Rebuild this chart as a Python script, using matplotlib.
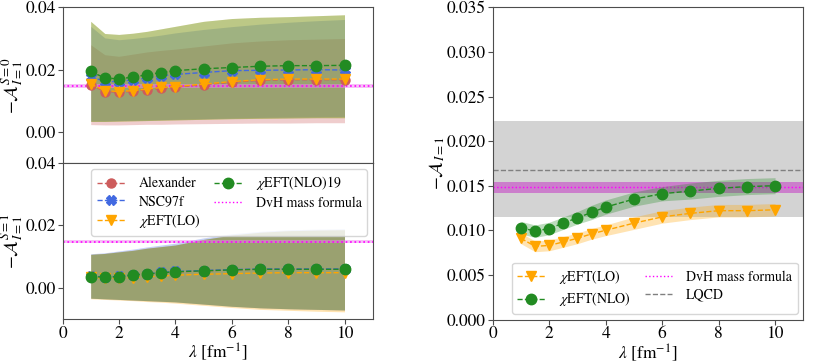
import numpy as np
import matplotlib
matplotlib.use("Agg")
import matplotlib.pyplot as plt

plt.rcParams['font.family'] = ['STIXGeneral', 'Liberation Serif', 'DejaVu Serif']
plt.rcParams['mathtext.fontset'] = 'stix'

lam = [1, 1.5, 2, 2.5, 3, 3.5, 4, 5, 6, 7, 8, 9, 10]

# ---- S=0 panel (top left) ----
s0_alex = [0.0152, 0.0130, 0.0128, 0.0131, 0.0136, 0.0141, 0.0144, 0.0152, 0.0160, 0.0166, 0.0168, 0.0168, 0.0168]
s0_nsc = [0.0178, 0.0162, 0.0162, 0.0168, 0.0173, 0.0180, 0.0185, 0.0191, 0.0197, 0.0198, 0.0199, 0.0200, 0.0199]
s0_lo = [0.0154, 0.0133, 0.0130, 0.0133, 0.0138, 0.0143, 0.0146, 0.0154, 0.0162, 0.0168, 0.0170, 0.0170, 0.0170]
s0_nlo = [0.0195, 0.0173, 0.0171, 0.0176, 0.0184, 0.0191, 0.0197, 0.0203, 0.0207, 0.0211, 0.0213, 0.0213, 0.0214]

s0_alex_hi = [0.0280, 0.0248, 0.0243, 0.0250, 0.0257, 0.0262, 0.0266, 0.0276, 0.0286, 0.0292, 0.0296, 0.0298, 0.0300]
s0_alex_lo = [0.0024, 0.0023, 0.0023, 0.0024, 0.0025, 0.0025, 0.0026, 0.0027, 0.0028, 0.0029, 0.0029, 0.0030, 0.0030]
s0_nsc_hi = [0.0339, 0.0302, 0.0296, 0.0300, 0.0305, 0.0311, 0.0318, 0.0329, 0.0338, 0.0346, 0.0352, 0.0357, 0.0361]
s0_nsc_lo = [0.0036, 0.0036, 0.0037, 0.0038, 0.0039, 0.0040, 0.0041, 0.0043, 0.0045, 0.0047, 0.0048, 0.0049, 0.0050]
s0_lo_hi = [0.0355, 0.0316, 0.0313, 0.0317, 0.0323, 0.0331, 0.0339, 0.0355, 0.0364, 0.0368, 0.0370, 0.0373, 0.0376]
s0_lo_lo = [0.0034, 0.0034, 0.0035, 0.0036, 0.0037, 0.0038, 0.0039, 0.0041, 0.0043, 0.0044, 0.0045, 0.0046, 0.0046]
s0_nlo_hi = [0.0355, 0.0316, 0.0313, 0.0317, 0.0323, 0.0331, 0.0339, 0.0355, 0.0364, 0.0368, 0.0370, 0.0373, 0.0376]
s0_nlo_lo = [0.0034, 0.0034, 0.0035, 0.0036, 0.0037, 0.0038, 0.0039, 0.0041, 0.0043, 0.0044, 0.0045, 0.0046, 0.0046]

# ---- S=1 panel (bottom left) ----
s1_alex = [0.0035, 0.0034, 0.0035, 0.0040, 0.0043, 0.0047, 0.0050, 0.0054, 0.0057, 0.0059, 0.0059, 0.0059, 0.0059]
s1_nsc = [0.0036, 0.0035, 0.0036, 0.0041, 0.0045, 0.0049, 0.0052, 0.0055, 0.0058, 0.0060, 0.0060, 0.0060, 0.0060]
s1_lo = [0.0033, 0.0030, 0.0030, 0.0032, 0.0035, 0.0037, 0.0040, 0.0043, 0.0045, 0.0047, 0.0048, 0.0048, 0.0048]
s1_nlo = [0.0035, 0.0034, 0.0035, 0.0041, 0.0044, 0.0048, 0.0051, 0.0054, 0.0057, 0.0059, 0.0059, 0.0059, 0.0059]

s1_hi = [0.0107, 0.0110, 0.0115, 0.0120, 0.0127, 0.0132, 0.0137, 0.0155, 0.0169, 0.0178, 0.0183, 0.0185, 0.0186]
s1_nsc_hi = [0.0109, 0.0112, 0.0118, 0.0124, 0.0131, 0.0137, 0.0143, 0.0160, 0.0173, 0.0181, 0.0186, 0.0188, 0.0189]
s1_lo_band = [-0.0034, -0.0036, -0.0038, -0.0040, -0.0042, -0.0044, -0.0046, -0.0053, -0.0060, -0.0065, -0.0068, -0.0070, -0.0072]
s1_lo_lo = [-0.0036, -0.0038, -0.0040, -0.0042, -0.0045, -0.0047, -0.0050, -0.0057, -0.0064, -0.0070, -0.0073, -0.0076, -0.0078]

# ---- total (right) ----
t_lo = [0.0091, 0.0082, 0.0083, 0.0087, 0.0091, 0.0096, 0.0100, 0.0108, 0.0115, 0.0119, 0.0122, 0.0122, 0.0123]
t_lo_err = [0.0006, 0.0006, 0.0006, 0.0006, 0.0006, 0.0006, 0.0006, 0.0007, 0.0007, 0.0007, 0.0007, 0.0007, 0.0007]
t_nlo = [0.0103, 0.0099, 0.0102, 0.0108, 0.0114, 0.0120, 0.0126, 0.0135, 0.0141, 0.0144, 0.0147, 0.0149, 0.0150]
t_nlo_err = [0.0007, 0.0007, 0.0007, 0.0007, 0.0007, 0.0008, 0.0008, 0.0008, 0.0008, 0.0009, 0.0009, 0.0009, 0.0009]

dvh = 0.0148
dvh_err = 0.0006
lqcd = 0.0168
lqcd_lo, lqcd_hi = 0.0115, 0.0222

C_ALEX = 'indianred'
C_NSC = 'royalblue'
C_LO = 'orange'
C_NLO = 'forestgreen'

fig = plt.figure(figsize=(8.14, 3.63), dpi=100)
W, H = 814.0, 363.0
ax1 = fig.add_axes([62.5 / W, (H - 163.3) / H, 310.2 / W, 156.0 / H])
ax2 = fig.add_axes([62.5 / W, (H - 318.7) / H, 310.2 / W, 155.4 / H], sharex=ax1)
ax3 = fig.add_axes([492.7 / W, (H - 319.5) / H, 310.6 / W, 312.2 / H])

spine_c = '0.3'
ms = 6.5
lw = 1.0
FS = 12.5
LFS = 10

def style(ax):
    for s in ax.spines.values():
        s.set_color(spine_c)
    ax.tick_params(colors=spine_c, labelcolor='black', labelsize=FS, pad=1.5, length=3.5)

# top-left
ax = ax1
ax.fill_between(lam, s0_alex_lo, s0_alex_hi, color=C_ALEX, alpha=0.3, lw=0)
ax.fill_between(lam, s0_nsc_lo, s0_nsc_hi, color=C_NSC, alpha=0.3, lw=0)
ax.fill_between(lam, s0_lo_lo, s0_lo_hi, color=C_LO, alpha=0.3, lw=0)
ax.fill_between(lam, s0_nlo_lo, s0_nlo_hi, color=C_NLO, alpha=0.3, lw=0)
ax.axhspan(dvh - dvh_err, dvh + dvh_err, color='violet', alpha=0.5, lw=0)
ax.axhline(dvh, color='magenta', ls=':', lw=1.2)
ax.plot(lam, s0_alex, '--o', color=C_ALEX, ms=ms, lw=lw)
ax.plot(lam, s0_nsc, '--X', color=C_NSC, ms=ms, lw=lw)
ax.plot(lam, s0_lo, '--v', color=C_LO, ms=ms + 1, lw=lw)
ax.plot(lam, s0_nlo, '--o', color=C_NLO, ms=ms + 1, lw=lw)
ax.set_ylim(-0.01, 0.04)
ax.set_yticks([0.0, 0.02, 0.04])
ax.set_yticklabels(['0.00', '0.02', '0.04'])
ax.set_ylabel(r'$-\mathcal{A}^{S=0}_{I=1}$', fontsize=FS + 1, labelpad=0)
style(ax)
ax.tick_params(axis='x', labelbottom=False, length=0)

# bottom-left
ax = ax2
ax.fill_between(lam, s1_lo_band, s1_hi, color=C_ALEX, alpha=0.3, lw=0)
ax.fill_between(lam, s1_lo_band, s1_nsc_hi, color=C_NSC, alpha=0.3, lw=0)
ax.fill_between(lam, s1_lo_lo, s1_hi, color=C_LO, alpha=0.3, lw=0)
ax.fill_between(lam, s1_lo_band, s1_hi, color=C_NLO, alpha=0.3, lw=0)
ax.axhspan(dvh - dvh_err, dvh + dvh_err, color='violet', alpha=0.5, lw=0)
h_dvh, = ax.plot([], [], color='magenta', ls=':', lw=1.0, label='DvH mass formula')
ax.axhline(dvh, color='magenta', ls=':', lw=1.2)
h_a, = ax.plot(lam, s1_alex, '--o', color=C_ALEX, ms=ms, lw=lw, label='Alexander')
h_n, = ax.plot(lam, s1_nsc, '--X', color=C_NSC, ms=ms, lw=lw, label='NSC97f')
h_l, = ax.plot(lam, s1_lo, '--v', color=C_LO, ms=ms + 1, lw=lw, label=r'$\chi$EFT(LO)')
h_g, = ax.plot(lam, s1_nlo, '--o', color=C_NLO, ms=ms + 1, lw=lw, label=r'$\chi$EFT(NLO)19')
ax.set_ylim(-0.01, 0.04)
ax.set_yticks([0.0, 0.02, 0.04])
ax.set_yticklabels(['0.00', '0.02', '0.04'])
ax.set_xlim(0, 11)
ax.set_xticks([0, 2, 4, 6, 8, 10])
ax.set_ylabel(r'$-\mathcal{A}^{S=1}_{I=1}$', fontsize=FS + 1, labelpad=0)
ax.set_xlabel(r'$\lambda$ [fm$^{-1}$]', fontsize=FS, labelpad=0)
ax.legend(handles=[h_a, h_n, h_l, h_g, h_dvh], ncol=2, loc='upper right',
          fontsize=LFS, handlelength=2.0, columnspacing=1.0, borderaxespad=0.4,
          labelspacing=0.3, handletextpad=1.0)
style(ax)

# right
ax = ax3
ax.axhspan(lqcd_lo, lqcd_hi, color='lightgray', lw=0, zorder=0)
ax.axhline(lqcd, color='gray', ls='--', lw=1.0, zorder=1)
ax.axhspan(dvh - dvh_err, dvh + dvh_err, color='m', alpha=0.4, lw=0, zorder=1)
ax.axhline(dvh, color='magenta', ls=':', lw=1.0, zorder=2)
lo_arr = np.array(t_lo)
nlo_arr = np.array(t_nlo)
ax.fill_between(lam, lo_arr - np.array(t_lo_err), lo_arr + np.array(t_lo_err), color=C_LO, alpha=0.3, lw=0, zorder=2)
ax.fill_between(lam, nlo_arr - np.array(t_nlo_err), nlo_arr + np.array(t_nlo_err), color=C_NLO, alpha=0.3, lw=0, zorder=2)
r_l, = ax.plot(lam, t_lo, '--v', color=C_LO, ms=ms + 1, lw=lw, label=r'$\chi$EFT(LO)', zorder=3)
r_g, = ax.plot(lam, t_nlo, '--o', color=C_NLO, ms=ms + 1, lw=lw, label=r'$\chi$EFT(NLO)', zorder=3)
r_d, = ax.plot([], [], color='magenta', ls=':', lw=1.0, label='DvH mass formula')
r_q, = ax.plot([], [], color='gray', ls='--', lw=1.0, label='LQCD')
ax.set_xlim(0, 11)
ax.set_ylim(0, 0.035)
ax.set_xticks([0, 2, 4, 6, 8, 10])
ax.set_yticks([0, 0.005, 0.01, 0.015, 0.02, 0.025, 0.03, 0.035])
ax.set_yticklabels(['0.000', '0.005', '0.010', '0.015', '0.020', '0.025', '0.030', '0.035'])
ax.set_ylabel(r'$-\mathcal{A}_{I=1}$', fontsize=FS + 1, labelpad=0)
ax.set_xlabel(r'$\lambda$ [fm$^{-1}$]', fontsize=FS, labelpad=0)
ax.legend(handles=[r_l, r_g, r_d, r_q], ncol=2, loc='lower right', fontsize=LFS,
          handlelength=2.0, columnspacing=1.0, borderaxespad=0.4, labelspacing=0.3,
          handletextpad=1.0)
style(ax)

fig.savefig('out.png', dpi=100)
